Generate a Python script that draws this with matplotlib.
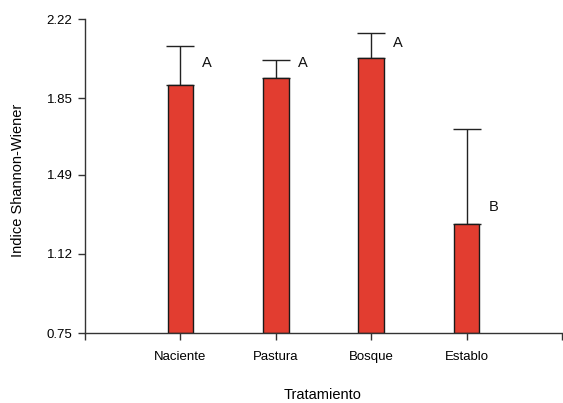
import matplotlib
matplotlib.use("Agg")
import matplotlib.pyplot as plt

categories = ["Naciente", "Pastura", "Bosque", "Establo"]
means = [1.911, 1.942, 2.036, 1.259]
upper_err = [0.183, 0.088, 0.120, 0.446]
letters = ["A", "A", "A", "B"]
letter_y = [2.014, 2.014, 2.106, 1.341]
yticks = [0.75, 1.12, 1.49, 1.85, 2.22]
ytick_labels = ["0.75", "1.12", "1.49", "1.85", "2.22"]

plt.rcParams['font.family'] = ['Liberation Sans', 'DejaVu Sans']

fig = plt.figure(figsize=(5.63, 4.03), dpi=100)
ax = fig.add_axes([85/563, 1-333/403, 477/563, (333-19)/403])

xs = list(range(1, len(categories) + 1))
bottom = 0.75
heights = [m - bottom for m in means]
ax.bar(xs, heights, bottom=bottom, width=0.27, color="#E23D30",
       edgecolor="#1a1a1a", linewidth=1.0, zorder=2)
ax.errorbar(xs, means, yerr=[[0]*len(means), upper_err], fmt="none",
            ecolor="#222222", elinewidth=1.0, capsize=10, capthick=1.0, zorder=1)
for x, t, ly in zip(xs, letters, letter_y):
    ax.text(x + 0.28, ly, t, ha="center", va="center", fontsize=10.5, color="#111111")

ax.set_xlim(0, 5)
ax.set_ylim(0.75, 2.22)
ax.set_xticks([0] + xs + [5])
ax.set_xticklabels([""] + categories + [""], fontsize=9.5)
ax.set_yticks(yticks)
ax.set_yticklabels(ytick_labels, fontsize=9.5)
ax.spines["top"].set_visible(False)
ax.spines["right"].set_visible(False)
for s in ("left", "bottom"):
    ax.spines[s].set_color("#333333")
    ax.spines[s].set_linewidth(1.0)
ax.tick_params(axis="both", length=5, width=1.0, color="#333333", direction="out")
ax.tick_params(axis="x", pad=8)
ax.tick_params(axis="y", pad=4)
ax.set_xlabel("Tratamiento", fontsize=10.5)
ax.set_ylabel("Indice Shannon-Wiener", fontsize=10.5)
ax.xaxis.set_label_coords((323 - 85) / 477, (333 - 395) / 314)
ax.yaxis.set_label_coords((18 - 85) / 477, (333 - 180) / 314)
ax.xaxis.label.set_va("center")
ax.yaxis.label.set_va("center")

fig.savefig("out.png", dpi=100)
